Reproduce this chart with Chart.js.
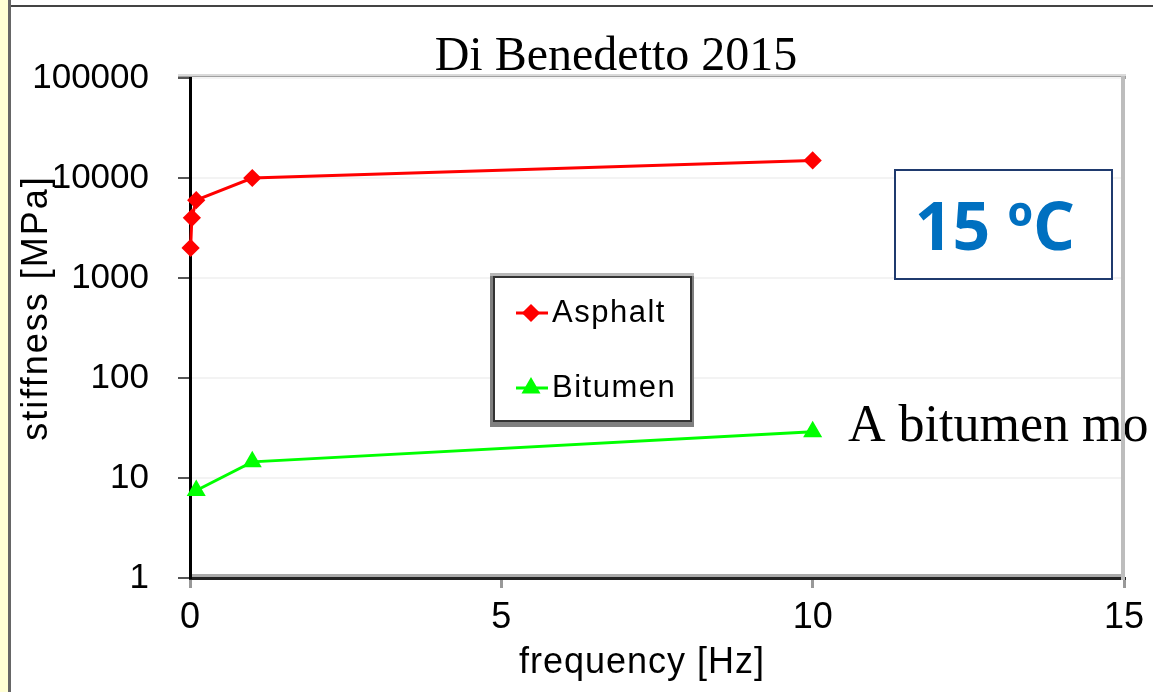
<!DOCTYPE html>
<html>
<head>
<meta charset="utf-8">
<script src="https://cdn.jsdelivr.net/npm/chart.js@4.4.0/dist/chart.umd.min.js"></script>
<style>
  html, body { margin: 0; padding: 0; background: #fff; overflow: hidden; }
  canvas { display: block; }
</style>
</head>
<body>
<canvas id="myChart" width="1153" height="692"></canvas>
<script>
var seriesNames = ['Asphalt', 'Bitumen'];
var seriesColors = ['#ff0000', '#00ff00'];
var asphaltFreq = [0.01, 0.03, 0.1, 1, 10];
var asphaltStiffness = [2000, 4000, 6000, 10000, 15000];
var bitumenFreq = [0.1, 1, 10];
var bitumenStiffness = [7.5, 14.5, 29];
var xTicks = [0, 5, 10, 15];
var yTicks = [1, 10, 100, 1000, 10000, 100000];
var titleText = 'Di Benedetto 2015';
var xTitle = 'frequency [Hz]';
var yTitle = 'stiffness [MPa]';
var tempText = '15 ºC';
var noteText = 'A bitumen mo';

var sansFont = '"Liberation Sans", Arial, sans-serif';
var serifFont = '"Liberation Serif", "Times New Roman", serif';

function toPoints(xs, ys) {
    var pts = [];
    for (var i = 0; i < xs.length; i++) {
        pts.push({ x: xs[i], y: ys[i] });
    }
    return pts;
}

// frame, borders, title, legend box and the text boxes
var decor = {
    id: 'decor',
    beforeDraw: function (chart) {
        var c = chart.ctx;
        var a = chart.chartArea;
        c.save();
        c.fillStyle = '#ffffff';
        c.fillRect(0, 0, chart.width, chart.height);
        // page edge on the left
        c.fillStyle = '#ffffd4';
        c.fillRect(0, 0, 8, chart.height);
        c.fillStyle = '#666666';
        c.fillRect(8, 0, 3, chart.height);
        c.fillStyle = '#444444';
        c.fillRect(11, 5, chart.width - 11, 2);
        // plot frame top and bottom shading
        c.fillStyle = '#dadada';
        c.fillRect(a.left - 12, a.top - 4, a.right - a.left + 14, 2);
        c.fillStyle = '#a0a0a0';
        c.fillRect(a.left - 12, a.top - 2, a.right - a.left + 14, 3);
        c.fillStyle = '#aaaaaa';
        c.fillRect(a.left, a.bottom - 4, a.right - a.left, 3);
        c.restore();
    },
    afterDraw: function (chart) {
        var c = chart.ctx;
        var a = chart.chartArea;
        c.save();

        // chart title
        c.fillStyle = '#000';
        c.font = '48px ' + serifFont;
        c.textAlign = 'center';
        c.textBaseline = 'alphabetic';
        c.fillText(titleText, 616, 70);

        // side note
        c.textAlign = 'left';
        c.font = '52px ' + serifFont;
        c.fillText(noteText, 848, 441);

        // right frame line sits over the note
        c.fillStyle = '#bdbdbd';
        c.fillRect(a.right - 3, a.top - 2, 4, a.bottom - a.top + 4);

        // axis titles
        c.fillStyle = '#000';
        c.font = '36px ' + sansFont;
        c.textAlign = 'center';
        c.textBaseline = 'middle';
        c.letterSpacing = '1px';
        c.fillText(xTitle, 642, 663);
        c.save();
        c.letterSpacing = '2px';
        c.translate(37, 308);
        c.rotate(-Math.PI / 2);
        c.fillText(yTitle, 0, 0);
        c.restore();
        c.letterSpacing = '0px';

        // temperature box
        c.strokeStyle = '#1f3a6e';
        c.lineWidth = 2;
        c.fillStyle = '#fff';
        c.fillRect(895, 170, 217, 109);
        c.strokeRect(895, 170, 217, 109);
        c.fillStyle = '#0070c0';
        c.font = 'bold 66px "Open Sans", sans-serif';
        c.textAlign = 'center';
        c.textBaseline = 'alphabetic';
        c.fillText(tempText, 995, 250);

        // legend
        c.fillStyle = '#7f7f7f';
        c.fillRect(490, 273, 204, 154);
        c.fillStyle = '#b8b8b8';
        c.fillRect(490, 273, 204, 3);
        c.fillStyle = '#ffffff';
        c.fillRect(495, 278, 195, 142);
        c.strokeStyle = '#333333';
        c.lineWidth = 2;
        c.strokeRect(494, 277, 197, 144);
        var rows = [313, 388];
        chart.data.datasets.forEach(function (ds, i) {
            var y = rows[i];
            c.strokeStyle = ds.borderColor;
            c.lineWidth = 3;
            c.beginPath();
            c.moveTo(516, y);
            c.lineTo(548, y);
            c.stroke();
            c.fillStyle = ds.backgroundColor;
            Chart.helpers.drawPoint(c, { pointStyle: ds.pointStyle, radius: ds.pointRadius, borderWidth: 1 }, 531, y);
            c.fill();
            c.fillStyle = '#000';
            c.font = '31px ' + sansFont;
            c.letterSpacing = '1.5px';
            c.textAlign = 'left';
            c.textBaseline = 'middle';
            c.fillText(ds.label, 552, y);
            c.letterSpacing = '0px';
        });

        c.restore();
    }
};

var ctx = document.getElementById('myChart').getContext('2d');
var chart = new Chart(ctx, {
    type: 'line',
    data: {
        datasets: [{
            label: seriesNames[0],
            data: toPoints(asphaltFreq, asphaltStiffness),
            borderColor: seriesColors[0],
            backgroundColor: seriesColors[0],
            borderWidth: 3,
            pointStyle: 'rectRot',
            pointRadius: 7,
            pointHoverRadius: 7,
            tension: 0
        }, {
            label: seriesNames[1],
            data: toPoints(bitumenFreq, bitumenStiffness),
            borderColor: seriesColors[1],
            backgroundColor: seriesColors[1],
            borderWidth: 3,
            pointStyle: 'triangle',
            pointRadius: 8,
            pointHoverRadius: 8,
            tension: 0
        }]
    },
    options: {
        responsive: false,
        animation: false,
        clip: false,
        layout: { padding: { top: 78, right: 29, left: 0, bottom: 0 } },
        plugins: {
            legend: { display: false },
            tooltip: { enabled: false },
            title: { display: false }
        },
        scales: {
            x: {
                type: 'linear',
                min: 0,
                max: 15,
                afterBuildTicks: function (s) {
                    s.ticks = xTicks.map(function (v) { return { value: v }; });
                },
                afterFit: function (s) { s.height = 114; },
                ticks: {
                    color: '#000',
                    font: { family: sansFont, size: 36 },
                    padding: 8,
                    maxRotation: 0
                },
                grid: { drawOnChartArea: false, tickLength: 10, tickColor: '#999', lineWidth: 3 },
                border: { color: '#222', width: 3 }
            },
            y: {
                type: 'logarithmic',
                min: 1,
                max: 100000,
                afterBuildTicks: function (s) {
                    s.ticks = yTicks.map(function (v) { return { value: v }; });
                },
                afterFit: function (s) { s.width = 190; },
                ticks: {
                    color: '#000',
                    font: { family: sansFont, size: 35 },
                    padding: 29,
                    callback: function (v) { return String(v); }
                },
                grid: { color: '#f3f3f3', lineWidth: 2, tickLength: 12, tickColor: '#555' },
                border: { color: '#000', width: 3 }
            }
        }
    },
    plugins: [decor]
});
</script>
</body>
</html>
